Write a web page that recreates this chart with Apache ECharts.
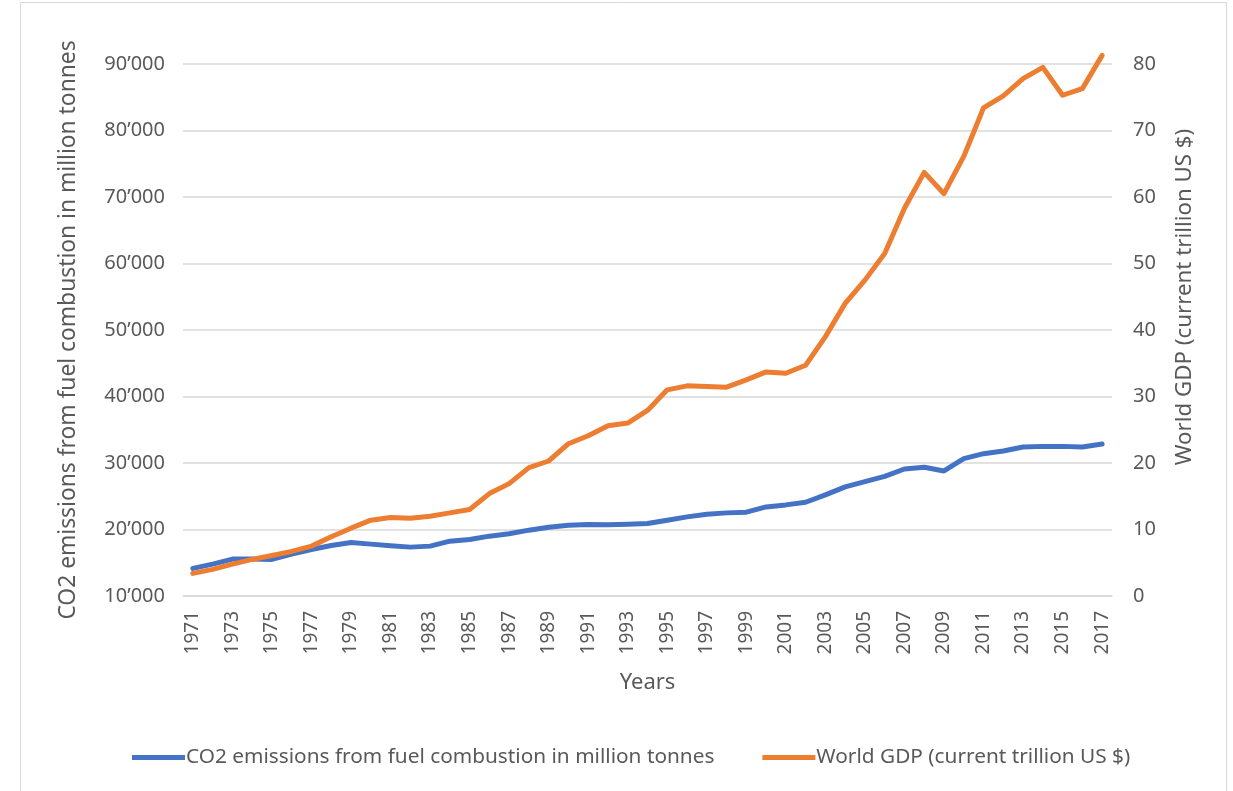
<!DOCTYPE html>
<html>
<head>
<meta charset="utf-8">
<script src="https://cdn.jsdelivr.net/npm/echarts@6/dist/echarts.min.js"></script>
<style>
  html, body { margin: 0; padding: 0; background: #fff; }
  #chart { width: 1233px; height: 791px; }
</style>
</head>
<body>
<div id="chart"></div>
<script>
// years on the category axis
const years = []
for (let y = 1971; y <= 2017; y++) years.push(String(y))

// CO2 emissions from fuel combustion, million tonnes
const co2 = [
  14150, 14800, 15550, 15550, 15500, 16300, 17000, 17600, 18050, 17800,
  17550, 17350, 17500, 18250, 18500, 19000, 19350, 19900, 20350, 20650,
  20750, 20700, 20800, 20900, 21400, 21900, 22300, 22500, 22600, 23400,
  23700, 24100, 25200, 26400, 27200, 28000, 29100, 29350, 28800, 30650,
  31400, 31800, 32400, 32500, 32500, 32400, 32850
]

// World GDP, current trillion US $
const gdp = [
  3.4, 4.0, 4.8, 5.5, 6.1, 6.7, 7.5, 8.9, 10.2, 11.4,
  11.8, 11.7, 12.0, 12.5, 13.0, 15.4, 16.9, 19.3, 20.3, 22.9,
  24.1, 25.6, 26.0, 27.9, 31.0, 31.6, 31.5, 31.4, 32.5, 33.7,
  33.5, 34.7, 39.0, 44.0, 47.5, 51.5, 58.3, 63.7, 60.5, 66.1,
  73.4, 75.2, 77.8, 79.5, 75.3, 76.3, 81.3
]

const co2Name = 'CO2 emissions from fuel combustion in million tonnes'
const gdpName = 'World GDP (current trillion US $)'

const font = 'Noto Sans'
const textColor = '#595959'
const gridColor = '#d9d9d9'

const fmtThousands = v => String(v).replace(/\B(?=(\d{3})+(?!\d))/g, '\u2019')

let chart = echarts.init(document.getElementById('chart'))
let options = {
  animation: false,
  backgroundColor: '#fff',
  textStyle: { fontFamily: font, color: textColor },
  graphic: [
    {
      type: 'rect',
      shape: { x: 20.5, y: 2.5, width: 1206, height: 800 },
      style: { fill: 'none', stroke: gridColor, lineWidth: 1 },
      silent: true
    }
  ],
  grid: {
    left: 183,
    right: 121,
    top: 64,
    bottom: 195
  },
  legend: {
    left: 127,
    top: 742,
    icon: 'rect',
    itemWidth: 53,
    itemHeight: 5,
    itemGap: 48,
    textStyle: { fontFamily: font, fontSize: 20.8, color: textColor, padding: [0, 0, 0, -4] },
    data: [co2Name, gdpName]
  },
  xAxis: {
    type: 'category',
    data: years,
    boundaryGap: true,
    name: 'Years',
    nameLocation: 'middle',
    nameGap: 76,
    nameTextStyle: { fontSize: 22, color: textColor, fontFamily: font },
    axisLine: { show: true, lineStyle: { color: gridColor, width: 1.5 } },
    axisTick: { show: false },
    axisLabel: {
      interval: 1,
      rotate: 90,
      margin: 15,
      fontSize: 19,
      color: textColor,
      fontFamily: font
    }
  },
  yAxis: [
    {
      type: 'value',
      min: 10000,
      max: 90000,
      interval: 10000,
      name: co2Name,
      nameLocation: 'middle',
      nameGap: 103,
      nameTextStyle: { fontSize: 22.8, color: textColor, fontFamily: font },
      axisLine: { show: false },
      axisTick: { show: false },
      axisLabel: {
        margin: 18,
        fontSize: 20,
        color: textColor,
        fontFamily: font,
        formatter: fmtThousands
      },
      splitLine: { lineStyle: { color: gridColor, width: 1.5 } }
    },
    {
      type: 'value',
      min: 0,
      max: 80,
      interval: 10,
      position: 'right',
      name: gdpName,
      nameLocation: 'middle',
      nameGap: 62,
      nameRotate: 90,
      nameTextStyle: { fontSize: 22.3, color: textColor, fontFamily: font, padding: [0, 0, 0, 66] },
      axisLine: { show: false },
      axisTick: { show: false },
      axisLabel: {
        margin: 21,
        fontSize: 20,
        color: textColor,
        fontFamily: font
      },
      splitLine: { show: false }
    }
  ],
  series: [
    {
      name: co2Name,
      type: 'line',
      yAxisIndex: 0,
      data: co2,
      showSymbol: false,
      symbol: 'none',
      clip: false,
      color: '#4472C4',
      lineStyle: { width: 5, color: '#4472C4', cap: 'round', join: 'round' }
    },
    {
      name: gdpName,
      type: 'line',
      yAxisIndex: 1,
      data: gdp,
      showSymbol: false,
      symbol: 'none',
      clip: false,
      color: '#ED7D31',
      lineStyle: { width: 5, color: '#ED7D31', cap: 'round', join: 'round' }
    }
  ]
}
chart.setOption(options)
</script>
</body>
</html>
